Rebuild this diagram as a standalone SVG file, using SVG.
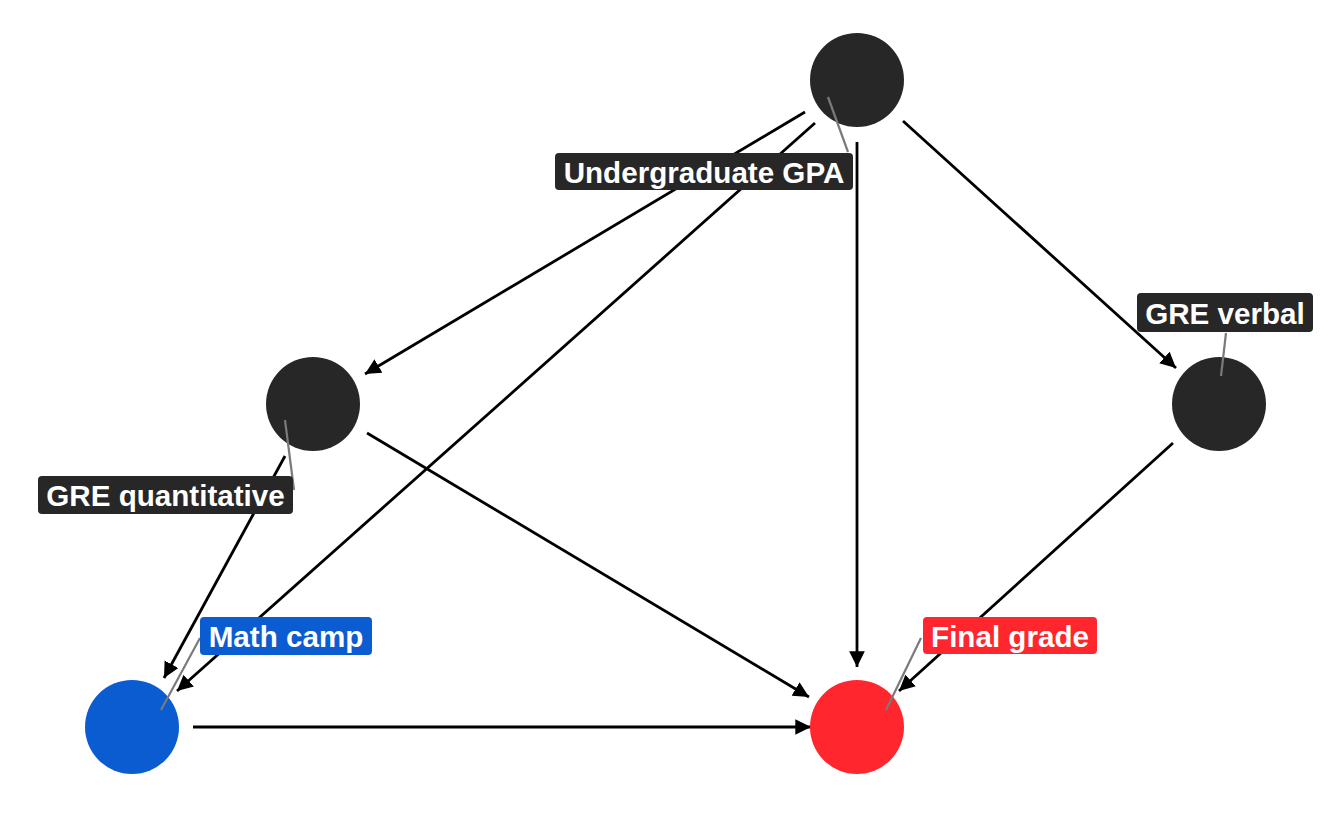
<svg xmlns="http://www.w3.org/2000/svg" width="1344" height="816" viewBox="0 0 1344 816">
<style>
.e{stroke:#000;stroke-width:2.8;fill:none;marker-end:url(#ah)}
.lead{stroke:#7a7a7a;stroke-width:2.2}
.lbl{font-family:"Liberation Sans",Arial,sans-serif;font-weight:bold;font-size:29.6px;fill:#fff;text-anchor:middle}
.dark{fill:#272727}
</style>
<defs>
<marker id="ah" viewBox="0 0 10 10" refX="10" refY="5" markerWidth="5.6" markerHeight="6" markerUnits="strokeWidth" orient="auto">
<path d="M0,0 L10,5 L0,10 z" fill="#000"/>
</marker>
</defs>
<rect width="1344" height="816" fill="#fff"/>
<g id="edges">
<line class="e" x1="805" y1="112" x2="365" y2="374"/>
<line class="e" x1="815" y1="123" x2="177" y2="691"/>
<line class="e" x1="857" y1="142" x2="857" y2="667"/>
<line class="e" x1="903" y1="121" x2="1176" y2="368"/>
<line class="e" x1="285" y1="456" x2="164" y2="678"/>
<line class="e" x1="367" y1="433" x2="809" y2="697"/>
<line class="e" x1="1173" y1="443" x2="899" y2="691"/>
<line class="e" x1="193" y1="727" x2="811" y2="727"/>
</g>
<g id="gpa">
<circle cx="857" cy="80" r="47" class="dark"/>
<line class="lead" x1="828" y1="97" x2="848" y2="152"/>
<rect x="555" y="153" width="298" height="37" rx="4" class="dark"/>
<text class="lbl" x="704" y="182.5">Undergraduate GPA</text>
</g>
<g id="grequant">
<circle cx="313" cy="404" r="47" class="dark"/>
<line class="lead" x1="285" y1="420" x2="294" y2="490"/>
<rect x="38" y="476" width="255" height="38" rx="4" class="dark"/>
<text class="lbl" x="165.5" y="505.5">GRE quantitative</text>
</g>
<g id="greverbal">
<circle cx="1219" cy="404" r="47" class="dark"/>
<line class="lead" x1="1226" y1="333" x2="1221" y2="376"/>
<rect x="1137" y="293" width="176" height="39" rx="4" class="dark"/>
<text class="lbl" x="1225" y="323.5">GRE verbal</text>
</g>
<g id="mathcamp">
<circle cx="132" cy="727" r="47" fill="#0b5cd1"/>
<line class="lead" x1="200" y1="638" x2="161" y2="710"/>
<rect x="200" y="617" width="172" height="38" rx="4" fill="#0b5cd1"/>
<text class="lbl" x="286" y="646.5">Math camp</text>
</g>
<g id="finalgrade">
<circle cx="857" cy="727" r="47" fill="#ff272d"/>
<line class="lead" x1="921" y1="638" x2="886" y2="710"/>
<rect x="923" y="617" width="174" height="37" rx="4" fill="#ff272d"/>
<text class="lbl" x="1010" y="646.5">Final grade</text>
</g>
</svg>
